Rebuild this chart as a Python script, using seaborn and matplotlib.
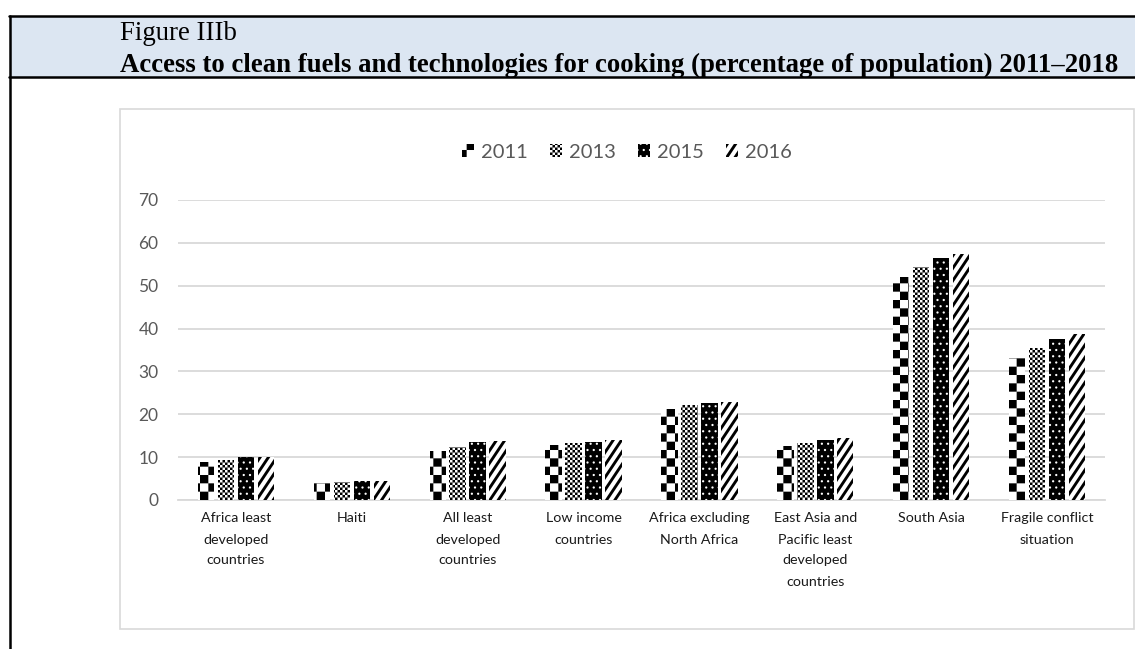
import numpy as np
import pandas as pd
import matplotlib
matplotlib.use("Agg")
import matplotlib.pyplot as plt
import matplotlib.patches as mpatches
from matplotlib import hatch as mhatch
from matplotlib.path import Path
import seaborn as sns

# ---------------- data ----------------
categories = [
    "Africa least\ndeveloped\ncountries",
    "Haiti",
    "All least\ndeveloped\ncountries",
    "Low income\ncountries",
    "Africa excluding\nNorth Africa",
    "East Asia and\nPacific least\ndeveloped\ncountries",
    "South Asia",
    "Fragile conflict\nsituation",
]
years = ["2011", "2013", "2015", "2016"]
v2011 = [8.9, 4.0, 11.4, 12.8, 21.2, 12.6, 52.0, 33.1]
v2013 = [9.3, 4.2, 12.4, 13.3, 22.1, 13.3, 54.3, 35.4]
v2015 = [10.0, 4.4, 13.5, 13.6, 22.6, 14.0, 56.4, 37.5]
v2016 = [10.1, 4.5, 13.8, 13.9, 22.9, 14.4, 57.3, 38.7]
yticks = [0, 10, 20, 30, 40, 50, 60, 70]

title1 = "Figure IIIb"
title2 = "Access to clean fuels and technologies for cooking (percentage of population) 2011\u20132018"

# ---------------- custom fill patterns (via hatch machinery) ----------------
M, L, C = Path.MOVETO, Path.LINETO, Path.CLOSEPOLY


def _build_pattern(kind):
    verts, codes = [], []
    if kind in (1, 2):  # checkerboards
        n = 12 if kind == 1 else 40
        s = 1.0 / n
        for i in range(n):
            for j in range(n):
                if (i + j) % 2 == 0:
                    x0, y0 = i * s, j * s
                    verts += [(x0, y0), (x0 + s, y0), (x0 + s, y0 + s), (x0, y0 + s), (x0, y0)]
                    codes += [M, L, L, L, C]
    elif kind == 3:  # staggered dots
        m = 16
        r = 0.0115
        th = np.linspace(0, 2 * np.pi, 13)[:-1]
        for row in range(m + 1):
            y = row / m
            xs = np.arange(m + 1) / m if row % 2 == 0 else (np.arange(m) + 0.5) / m
            for x in xs:
                pts = [(x + r * np.cos(t), y + r * np.sin(t)) for t in th]
                verts += pts + [pts[0]]
                codes += [M] + [L] * 11 + [C]
    elif kind == 4:  # thick diagonal stripes
        k, slope, w = 8, 1.5, 0.052
        for t in range(-14, 10):
            c = t / k
            x0, x1 = -0.05, 1.05
            pts = [(x0, slope * x0 + c), (x1, slope * x1 + c),
                   (x1, slope * x1 + c + w), (x0, slope * x0 + c + w)]
            verts += pts + [pts[0]]
            codes += [M, L, L, L, C]
    return np.array(verts, float), np.array(codes, Path.code_type)


class CustomFill(mhatch.HatchPatternBase):
    def __init__(self, hatch, density):
        kind = hatch.count("*")
        if kind == 0:
            self.num_vertices = 0
            self._v = None
        else:
            self._v, self._c = _build_pattern(kind)
            self.num_vertices = len(self._v)

    def set_vertices_and_codes(self, vertices, codes):
        vertices[:] = self._v
        codes[:] = self._c


mhatch._hatch_types[:] = [t for t in mhatch._hatch_types if t is not mhatch.Stars] + [CustomFill]

styles = {
    "2011": dict(face="white", edge="black", hatch="*"),
    "2013": dict(face="white", edge="black", hatch="**"),
    "2015": dict(face="black", edge="white", hatch="***"),
    "2016": dict(face="white", edge="black", hatch="****"),
}

# ---------------- figure ----------------
sns.set_theme(style="white")
plt.rcParams["font.family"] = ["Lato", "DejaVu Sans"]
plt.rcParams["hatch.linewidth"] = 0.01

W, H = 1135, 649
fig = plt.figure(figsize=(W / 100, H / 100), dpi=100)


def fx(x):
    return x / W


def fy(y):
    return 1 - y / H


# header band
fig.patches.append(mpatches.Rectangle((fx(10), fy(77)), fx(1135) - fx(10), fy(16) - fy(77),
                                      transform=fig.transFigure, facecolor="#DCE6F2",
                                      edgecolor="none", zorder=-2))
fig.add_artist(plt.Line2D([fx(9), 1], [fy(16), fy(16)], transform=fig.transFigure, color="black", lw=1.8))
fig.add_artist(plt.Line2D([fx(9), 1], [fy(77), fy(77)], transform=fig.transFigure, color="black", lw=1.8))
fig.add_artist(plt.Line2D([fx(10), fx(10)], [fy(16), 0], transform=fig.transFigure, color="black", lw=1.8))

# chart border
fig.patches.append(mpatches.Rectangle((fx(120), fy(629)), fx(1134) - fx(120), fy(109) - fy(629),
                                      transform=fig.transFigure, facecolor="none",
                                      edgecolor="#D9D9D9", lw=1.2, zorder=-1))

# titles (fit bold line width)
t2 = fig.text(fx(120), fy(72), title2, family="Liberation Serif", weight="bold",
              fontsize=15, ha="left", va="baseline", color="black")
fig.canvas.draw()
wpx = t2.get_window_extent().width
fs = 15 * (997 / wpx)
t2.set_fontsize(fs)
fig.text(fx(120), fy(40), title1, family="Liberation Serif", fontsize=fs,
         ha="left", va="baseline", color="black")

# axes
ax = fig.add_axes([fx(178), fy(500), fx(1105) - fx(178), fy(200) - fy(500)])
ax.patch.set_alpha(0)

df = pd.DataFrame({
    "category": categories * 4,
    "year": sum([[y] * len(categories) for y in years], []),
    "value": v2011 + v2013 + v2015 + v2016,
})

sns.barplot(data=df, x="category", y="value", hue="year", order=categories, hue_order=years,
            palette=[styles[y]["face"] for y in years], width=0.69, gap=0.18,
            legend=False, ax=ax, zorder=3)

for cont, y in zip(ax.containers, years):
    st = styles[y]
    for bar in cont:
        bar.set_facecolor(st["face"])
        bar.set_edgecolor(st["edge"])
        bar.set_linewidth(0)
        bar.set_hatch(st["hatch"])

ax.set_ylim(0, 70)
ax.set_yticks(yticks)
ax.set_xlim(-0.5, len(categories) - 0.5)
ax.grid(axis="y", color="#D9D9D9", lw=1.3, zorder=0)
ax.set_axisbelow(True)
for s in ["top", "right", "left"]:
    ax.spines[s].set_visible(False)
ax.spines["bottom"].set_color("#D9D9D9")
ax.spines["bottom"].set_linewidth(1.3)
ax.set_xlabel("")
ax.set_ylabel("")
ax.tick_params(axis="y", length=0, pad=14, labelsize=12.5, labelcolor="#595959")
ax.tick_params(axis="x", length=0, pad=9, labelsize=10.3, labelcolor="#1A1A1A")
for lab in ax.get_xticklabels():
    lab.set_linespacing(1.9)
    lab.set_va("top")

handles = [mpatches.Patch(facecolor=styles[y]["face"], edgecolor=styles[y]["edge"],
                          hatch=styles[y]["hatch"], lw=0, label=y) for y in years]
leg = fig.legend(handles=handles, loc="center", bbox_to_anchor=(fx(627), fy(152)), ncol=4,
                 frameon=False, fontsize=14.5, handlelength=0.6, handleheight=0.6,
                 handletextpad=0.35, columnspacing=1.1, borderaxespad=0)
for t in leg.get_texts():
    t.set_color("#595959")

fig.savefig("out.png", dpi=100)
